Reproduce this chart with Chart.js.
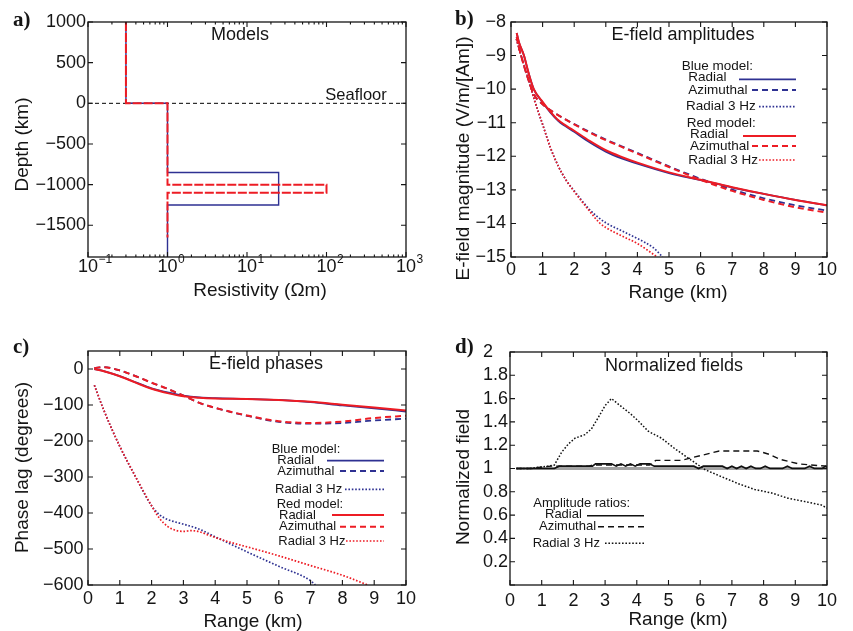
<!DOCTYPE html>
<html>
<head>
<meta charset="utf-8">
<script src="https://cdn.jsdelivr.net/npm/chart.js@4.4.1/dist/chart.umd.min.js"></script>
<style>
  html, body { margin: 0; padding: 0; background: #fff; }
  #page { position: relative; width: 853px; height: 631px; overflow: hidden; }
  canvas { position: absolute; }
</style>
</head>
<body>
<div id="page">
  <canvas id="chartA" width="440" height="310" style="left:0;top:0"></canvas>
  <canvas id="chartB" width="433" height="310" style="left:420px;top:0"></canvas>
  <canvas id="chartC" width="420" height="321" style="left:0;top:310px"></canvas>
  <canvas id="chartD" width="433" height="321" style="left:420px;top:310px"></canvas>
</div>
<script>
// a) resistivity models (Ohm m) against depth (km)
var blueModelRes   = [0.3, 0.3, 1, 1, 25, 25, 1, 1];
var blueModelDepth = [1000, 0, 0, -850, -850, -1250, -1250, -1890];
var redModelRes    = [0.3, 0.3, 1, 1, 100, 100, 1, 1];
var redModelDepth  = [1000, 0, 0, -1000, -1000, -1100, -1100, -1650];
var seafloorRes    = [0.1, 1000];
var seafloorDepth  = [0, 0];
var resTicks   = [0.1, 1, 10, 100, 1000];
var depthTicks = [-1500, -1000, -500, 0, 500, 1000];

// b) E-field amplitudes, log10 V/m/(Am)
var ampRange      = [0.18, 0.25, 0.41, 0.55, 0.72, 1, 1.25, 1.5, 2, 2.5, 3, 3.5, 4, 5, 6, 7, 8, 9, 10];
var ampRadialRed  = [-8.33, -8.6, -9.0, -9.5, -10.0, -10.38, -10.68, -10.93, -11.24, -11.55, -11.82, -12.02, -12.19, -12.48, -12.7, -12.92, -13.12, -13.3, -13.46];
var ampRadialBlue = [-8.33, -8.6, -9.0, -9.5, -10.0, -10.39, -10.7, -10.95, -11.27, -11.59, -11.86, -12.06, -12.22, -12.5, -12.71, -12.93, -13.12, -13.3, -13.46];
var ampAzimRed    = [-8.45, -8.75, -9.3, -9.72, -10.15, -10.45, -10.63, -10.78, -11.05, -11.3, -11.52, -11.72, -11.92, -12.32, -12.7, -13.03, -13.3, -13.52, -13.68];
var ampAzimBlue   = [-8.45, -8.75, -9.3, -9.72, -10.15, -10.45, -10.63, -10.78, -11.04, -11.28, -11.5, -11.7, -11.9, -12.3, -12.67, -12.99, -13.25, -13.46, -13.62];
var amp3HzRangeRed  = [0.17, 0.3, 0.5, 0.75, 1, 1.25, 1.5, 1.75, 2, 2.5, 2.8, 3, 3.5, 4, 4.63];
var amp3HzRed       = [-8.5, -8.95, -9.55, -10.35, -11.05, -11.75, -12.3, -12.72, -13.05, -13.65, -13.98, -14.12, -14.37, -14.6, -15];
var amp3HzRangeBlue = [0.17, 0.3, 0.5, 0.75, 1, 1.25, 1.5, 1.75, 2, 2.5, 2.8, 3, 3.5, 4, 4.5, 4.8];
var amp3HzBlue      = [-8.5, -8.95, -9.55, -10.35, -11.05, -11.75, -12.3, -12.72, -13.03, -13.6, -13.85, -13.98, -14.22, -14.45, -14.72, -15];
var ampTicks   = [-15, -14, -13, -12, -11, -10, -9, -8];
var rangeTicks = [0, 1, 2, 3, 4, 5, 6, 7, 8, 9, 10];

// c) E-field phases (degrees)
var phaseRange      = [0.2, 0.5, 1, 1.5, 2, 2.5, 3, 3.5, 4, 5, 6, 7, 8, 9, 10];
var phaseRadialRed  = [0, -6, -20, -38, -55, -67, -76, -80, -82, -83, -86, -91, -99, -107, -115];
var phaseRadialBlue = [0, -6, -20, -37, -54, -65, -74, -79, -81, -83, -86, -92, -101, -109, -118];
var phaseAzimRed    = [3, 5, -4, -20, -38, -55, -74, -94, -108, -129, -145, -150, -146, -136, -130];
var phaseAzimBlue   = [3, 5, -4, -20, -38, -55, -74, -94, -108, -130, -147, -152, -150, -143, -138];
var phase3HzRangeRed  = [0.2, 0.5, 1, 1.5, 2, 2.25, 2.5, 2.75, 3, 3.25, 3.5, 3.75, 4, 4.5, 5, 6, 7, 8, 8.8];
var phase3HzRed       = [-45, -115, -215, -300, -380, -415, -437, -448, -451, -449, -452, -460, -468, -482, -494, -519, -546, -573, -600];
var phase3HzRangeBlue = [0.2, 0.5, 1, 1.5, 2, 2.25, 2.5, 2.75, 3, 3.5, 4, 4.5, 5, 6, 7, 7.15];
var phase3HzBlue      = [-45, -115, -215, -300, -380, -405, -418, -425, -431, -445, -466, -487, -508, -548, -588, -600];
var phaseTicks = [-600, -500, -400, -300, -200, -100, 0];

// d) normalized fields (amplitude ratios)
var normRadialRange = [0.2, 1.4, 1.55, 2.6, 2.7, 3.2, 3.35, 3.5, 3.65, 3.8, 3.95, 4.1, 4.4, 4.55, 5.8, 5.95, 6.1, 6.7, 6.85, 7.0, 7.15, 7.3, 7.45, 7.6, 7.75, 7.9, 8.05, 8.2, 8.6, 8.75, 8.9, 9.3, 9.45, 9.6, 9.85, 9.95, 10];
var normRadial      = [1, 1, 1.02, 1.02, 1.04, 1.04, 1.02, 1.04, 1.02, 1.04, 1.02, 1.04, 1.04, 1.02, 1.02, 1.0, 1.02, 1.02, 1.0, 1.02, 1.0, 1.02, 1.0, 1.02, 1.0, 1.0, 1.02, 1.0, 1.0, 1.02, 1.0, 1.0, 1.02, 1.0, 1.0, 1.02, 1.01];
var normAzimRange   = [0.2, 0.7, 0.9, 1.3, 2.5, 2.6, 4.4, 4.6, 5.4, 5.7, 6.0, 6.3, 6.6, 7.8, 7.95, 8.2, 8.5, 8.8, 9.1, 9.5, 10];
var normAzim        = [1.0, 1.0, 1.01, 1.02, 1.02, 1.03, 1.03, 1.07, 1.07, 1.09, 1.11, 1.13, 1.15, 1.15, 1.14, 1.12, 1.08, 1.06, 1.04, 1.03, 1.02];
var norm3HzRange    = [0.2, 0.6, 0.9, 1.2, 1.4, 1.63, 1.84, 2.05, 2.36, 2.57, 2.79, 3.0, 3.2, 3.52, 3.8, 4.04, 4.36, 4.78, 5.2, 5.62, 6.15, 6.67, 7.2, 7.72, 8.25, 8.77, 9.3, 9.82, 10];
var norm3Hz         = [1.0, 1.0, 1.01, 1.02, 1.03, 1.14, 1.21, 1.26, 1.29, 1.34, 1.44, 1.54, 1.6, 1.53, 1.47, 1.41, 1.32, 1.26, 1.17, 1.09, 0.99, 0.93, 0.87, 0.82, 0.79, 0.745, 0.716, 0.687, 0.66];
var unityRange = [0.2, 10];
var unity      = [1, 1];
var normTicks  = [0, 0.2, 0.4, 0.6, 0.8, 1, 1.2, 1.4, 1.6, 1.8, 2];

var FONT = '"Liberation Sans", Arial, Helvetica, sans-serif';
var SERIF = '"Liberation Serif", "Times New Roman", serif';
var INK = '#151515';
var BLUE = '#2e3192';
var RED = '#ed1c24';

var SOLID = [];
var DASHED = [6, 4];
var DOTTED = [1.6, 1.8];

function minus(v) {
    return String(v).replace('-', '\u2212');
}

function series(xs, ys, color, dash, width, order, smooth) {
    return {
        data: xs.map(function (x, i) { return {x: x, y: ys[i]}; }),
        borderColor: color,
        borderWidth: width,
        borderDash: dash,
        order: order,
        fill: false,
        pointRadius: 0,
        tension: smooth ? 0.4 : 0,
        cubicInterpolationMode: smooth ? 'monotone' : 'default'
    };
}

function axis(type, min, max, values, labelFn, pad, crossAlign) {
    return {
        type: type,
        min: min,
        max: max,
        grid: {display: false, drawTicks: false},
        border: {display: false},
        afterBuildTicks: function (s) {
            s.ticks = values.map(function (v) { return {value: v}; });
        },
        ticks: {
            autoSkip: false,
            maxRotation: 0,
            padding: pad,
            color: INK,
            crossAlign: crossAlign || 'near',
            font: {family: FONT, size: 18},
            callback: labelFn
        }
    };
}

// box round the plot area, with inward ticks on all four sides
function framePlugin(minorX) {
    return {
        id: 'frame',
        afterDraw: function (chart) {
            var a = chart.chartArea, ctx = chart.ctx;
            var xs = chart.scales.x, ys = chart.scales.y;
            ctx.save();
            ctx.strokeStyle = INK;
            ctx.lineWidth = 1.1;
            ctx.setLineDash([]);
            ctx.beginPath();
            xs.ticks.forEach(function (t) {
                var p = xs.getPixelForValue(t.value);
                ctx.moveTo(p, a.bottom); ctx.lineTo(p, a.bottom - 5);
                ctx.moveTo(p, a.top); ctx.lineTo(p, a.top + 5);
            });
            (minorX || []).forEach(function (v) {
                var p = xs.getPixelForValue(v);
                ctx.moveTo(p, a.bottom); ctx.lineTo(p, a.bottom - 2.5);
                ctx.moveTo(p, a.top); ctx.lineTo(p, a.top + 2.5);
            });
            ys.ticks.forEach(function (t) {
                var p = ys.getPixelForValue(t.value);
                ctx.moveTo(a.left, p); ctx.lineTo(a.left + 5, p);
                ctx.moveTo(a.right, p); ctx.lineTo(a.right - 5, p);
            });
            ctx.stroke();
            ctx.lineWidth = 1.3;
            ctx.strokeRect(a.left, a.top, a.right - a.left, a.bottom - a.top);
            ctx.restore();
        }
    };
}

// titles, panel letters and hand-laid legends, given in page coordinates
function decorPlugin(frame, texts, keys) {
    return {
        id: 'decor',
        afterDraw: function (chart) {
            var ctx = chart.ctx;
            ctx.save();
            (keys || []).forEach(function (k) {
                ctx.beginPath();
                ctx.strokeStyle = k.color;
                ctx.lineWidth = k.width;
                ctx.setLineDash(k.dash);
                ctx.moveTo(k.x1 - frame.x, k.y - frame.y);
                ctx.lineTo(k.x2 - frame.x, k.y - frame.y);
                ctx.stroke();
            });
            ctx.setLineDash([]);
            texts.forEach(function (t) {
                ctx.save();
                ctx.font = t.font;
                ctx.fillStyle = INK;
                ctx.textAlign = t.align || 'center';
                ctx.textBaseline = t.base || 'middle';
                ctx.translate(t.x - frame.x, t.y - frame.y);
                if (t.rot) ctx.rotate(-Math.PI / 2);
                ctx.fillText(t.text, 0, 0);
                ctx.restore();
            });
            ctx.restore();
        }
    };
}

// 10^n labels for the log axis of panel a
var decadeLabels = {
    id: 'decades',
    afterDraw: function (chart) {
        var s = chart.scales.x, ctx = chart.ctx, y = chart.chartArea.bottom;
        ctx.save();
        ctx.fillStyle = INK;
        ctx.textBaseline = 'middle';
        resTicks.forEach(function (v) {
            var p = s.getPixelForValue(v);
            ctx.font = '18px ' + FONT;
            ctx.textAlign = 'center';
            ctx.fillText('10', p, y + 10);
            var w = ctx.measureText('10').width;
            ctx.font = '12px ' + FONT;
            ctx.textAlign = 'left';
            ctx.fillText(minus(Math.round(Math.log10(v))), p + w / 2 + 0.5, y + 3);
        });
        ctx.restore();
    }
};

function makeChart(id, frame, plot, datasets, xAxis, yAxis, plugins, padLeft) {
    padLeft = padLeft || 0;
    xAxis.afterFit = function (s) { s.height = frame.y + frame.h - plot.b; };
    yAxis.afterFit = function (s) { s.width = plot.l - frame.x - padLeft; };
    return new Chart(document.getElementById(id), {
        type: 'line',
        data: {datasets: datasets},
        options: {
            responsive: false,
            animation: false,
            devicePixelRatio: 1,
            layout: {
                autoPadding: false,
                padding: {left: padLeft, top: plot.t - frame.y, right: frame.x + frame.w - plot.r, bottom: 0}
            },
            plugins: {legend: {display: false}, tooltip: {enabled: false}},
            elements: {point: {radius: 0}, line: {borderCapStyle: 'butt'}},
            scales: {x: xAxis, y: yAxis}
        },
        plugins: plugins
    });
}

var legendFont = '13.5px ' + FONT;
var smallLegend = '13px ' + FONT;
var titleFont = '19px ' + FONT;
var headFont = '18px ' + FONT;
var letterFont = 'bold 21px ' + SERIF;

// ---- a) Models
var resMinor = [];
[0.1, 1, 10, 100].forEach(function (d) {
    for (var k = 2; k <= 9; k++) resMinor.push(d * k);
});
var frameA = {x: 0, y: 0, w: 440, h: 310};
makeChart('chartA', frameA, {l: 88, t: 22, r: 406, b: 257}, [
    series(redModelRes, redModelDepth, RED, [9, 2], 2, 0, false),
    series(blueModelRes, blueModelDepth, BLUE, SOLID, 1.4, 1, false),
    series(seafloorRes, seafloorDepth, '#000', [4, 3], 1, 2, false)
],
    axis('logarithmic', 0.1, 1000, resTicks, function () { return ''; }, 2),
    axis('linear', -1890, 1000, depthTicks, minus, 2),
    [framePlugin(resMinor), decadeLabels, decorPlugin(frameA, [
        {text: 'a)', x: 13, y: 25.5, font: letterFont, align: 'left', base: 'alphabetic'},
        {text: 'Models', x: 240, y: 35, font: headFont},
        {text: 'Seafloor', x: 356, y: 95.5, font: '16.5px ' + FONT},
        {text: 'Depth (km)', x: 22.5, y: 144.5, font: titleFont, rot: true},
        {text: 'Resistivity (\u03A9m)', x: 260, y: 290.5, font: titleFont}
    ])]
);

// ---- b) E-field amplitudes
var frameB = {x: 420, y: 0, w: 433, h: 310};
makeChart('chartB', frameB, {l: 511, t: 22, r: 827, b: 257}, [
    series(ampRange, ampRadialRed, RED, SOLID, 2, 0, true),
    series(ampRange, ampAzimRed, RED, DASHED, 2, 1, true),
    series(amp3HzRangeRed, amp3HzRed, RED, DOTTED, 1.7, 2, true),
    series(ampRange, ampRadialBlue, BLUE, SOLID, 1.8, 3, true),
    series(ampRange, ampAzimBlue, BLUE, DASHED, 1.8, 4, true),
    series(amp3HzRangeBlue, amp3HzBlue, BLUE, DOTTED, 1.7, 5, true)
],
    axis('linear', 0, 10, rangeTicks, minus, 2),
    axis('linear', -15, -8, ampTicks, minus, 5),
    [framePlugin(), decorPlugin(frameB, [
        {text: 'b)', x: 455, y: 25, font: letterFont, align: 'left', base: 'alphabetic'},
        {text: 'E-field amplitudes', x: 683, y: 35, font: headFont},
        {text: 'E-field magnitude (V/m/[Am])', x: 464, y: 158.5, font: titleFont, rot: true},
        {text: 'Range (km)', x: 678, y: 293, font: titleFont},
        {text: 'Blue model:', x: 681.7, y: 66.7, font: legendFont, align: 'left'},
        {text: 'Radial', x: 688.3, y: 77.3, font: legendFont, align: 'left'},
        {text: 'Azimuthal', x: 688.3, y: 90, font: legendFont, align: 'left'},
        {text: 'Radial 3 Hz', x: 686, y: 106.7, font: legendFont, align: 'left'},
        {text: 'Red model:', x: 686.7, y: 123.3, font: legendFont, align: 'left'},
        {text: 'Radial', x: 690, y: 134, font: legendFont, align: 'left'},
        {text: 'Azimuthal', x: 690, y: 146, font: legendFont, align: 'left'},
        {text: 'Radial 3 Hz', x: 688.3, y: 160, font: legendFont, align: 'left'}
    ], [
        {x1: 739, x2: 796, y: 79.3, color: BLUE, dash: SOLID, width: 1.8},
        {x1: 752, x2: 796, y: 90, color: BLUE, dash: DASHED, width: 1.8},
        {x1: 759, x2: 796, y: 106.7, color: BLUE, dash: DOTTED, width: 1.7},
        {x1: 743, x2: 796, y: 136, color: RED, dash: SOLID, width: 2},
        {x1: 752, x2: 796, y: 146, color: RED, dash: DASHED, width: 2},
        {x1: 759, x2: 796, y: 160, color: RED, dash: DOTTED, width: 1.7}
    ])]
);

// ---- c) E-field phases
var frameC = {x: 0, y: 310, w: 420, h: 321};
makeChart('chartC', frameC, {l: 88, t: 351, r: 406, b: 585}, [
    series(phaseRange, phaseRadialRed, RED, SOLID, 2, 0, true),
    series(phaseRange, phaseAzimRed, RED, DASHED, 2, 1, true),
    series(phase3HzRangeRed, phase3HzRed, RED, DOTTED, 1.7, 2, true),
    series(phaseRange, phaseRadialBlue, BLUE, SOLID, 1.8, 3, true),
    series(phaseRange, phaseAzimBlue, BLUE, DASHED, 1.8, 4, true),
    series(phase3HzRangeBlue, phase3HzBlue, BLUE, DOTTED, 1.7, 5, true)
],
    axis('linear', 0, 10, rangeTicks, minus, 3),
    axis('linear', -600, 50, phaseTicks, minus, 4.5),
    [framePlugin(), decorPlugin(frameC, [
        {text: 'c)', x: 13, y: 353, font: letterFont, align: 'left', base: 'alphabetic'},
        {text: 'E-field phases', x: 266, y: 364, font: headFont},
        {text: 'Phase lag (degrees)', x: 22.5, y: 467.5, font: titleFont, rot: true},
        {text: 'Range (km)', x: 253, y: 621.5, font: titleFont},
        {text: 'Blue model:', x: 271.7, y: 449, font: smallLegend, align: 'left'},
        {text: 'Radial', x: 277.3, y: 460, font: smallLegend, align: 'left'},
        {text: 'Azimuthal', x: 277.3, y: 471, font: smallLegend, align: 'left'},
        {text: 'Radial 3 Hz', x: 275, y: 489.3, font: smallLegend, align: 'left'},
        {text: 'Red model:', x: 276.7, y: 504, font: smallLegend, align: 'left'},
        {text: 'Radial', x: 279, y: 515, font: smallLegend, align: 'left'},
        {text: 'Azimuthal', x: 279, y: 526.7, font: smallLegend, align: 'left'},
        {text: 'Radial 3 Hz', x: 278.3, y: 541, font: smallLegend, align: 'left'}
    ], [
        {x1: 327, x2: 384, y: 460.7, color: BLUE, dash: SOLID, width: 1.8},
        {x1: 340, x2: 384, y: 471, color: BLUE, dash: DASHED, width: 1.8},
        {x1: 345, x2: 384, y: 489.3, color: BLUE, dash: DOTTED, width: 1.7},
        {x1: 332, x2: 384, y: 515, color: RED, dash: SOLID, width: 2},
        {x1: 340, x2: 384, y: 526.7, color: RED, dash: DASHED, width: 2},
        {x1: 346, x2: 384, y: 541, color: RED, dash: DOTTED, width: 1.7}
    ])]
);

// ---- d) Normalized fields
var frameD = {x: 420, y: 310, w: 433, h: 321};
makeChart('chartD', frameD, {l: 510, t: 352, r: 827, b: 585}, [
    series(normRadialRange, normRadial, '#111', SOLID, 1.6, 0, false),
    series(normAzimRange, normAzim, '#111', DASHED, 1.4, 1, false),
    series(norm3HzRange, norm3Hz, '#111', DOTTED, 1.5, 2, false),
    series(unityRange, unity, '#a3a3a3', SOLID, 3, 3, false)
],
    axis('linear', 0, 10, rangeTicks, minus, 5),
    axis('linear', 0, 2, normTicks, function (v) {
        return v === 0 ? '' : minus(+v.toFixed(1));
    }, 3, 'far'),
    [framePlugin(), decorPlugin(frameD, [
        {text: 'd)', x: 455, y: 353, font: letterFont, align: 'left', base: 'alphabetic'},
        {text: 'Normalized fields', x: 674, y: 366, font: headFont},
        {text: 'Normalized field', x: 463.5, y: 477, font: titleFont, rot: true},
        {text: 'Range (km)', x: 678, y: 620, font: titleFont},
        {text: 'Amplitude ratios:', x: 533.3, y: 503, font: smallLegend, align: 'left'},
        {text: 'Radial', x: 545, y: 514, font: smallLegend, align: 'left'},
        {text: 'Azimuthal', x: 539, y: 526, font: smallLegend, align: 'left'},
        {text: 'Radial 3 Hz', x: 532.7, y: 543.3, font: smallLegend, align: 'left'}
    ], [
        {x1: 587, x2: 644, y: 515.7, color: '#111', dash: SOLID, width: 1.6},
        {x1: 598, x2: 644, y: 526.7, color: '#111', dash: DASHED, width: 1.4},
        {x1: 605, x2: 644, y: 543.3, color: '#111', dash: DOTTED, width: 1.5}
    ])],
    63
);
</script>
</body>
</html>
